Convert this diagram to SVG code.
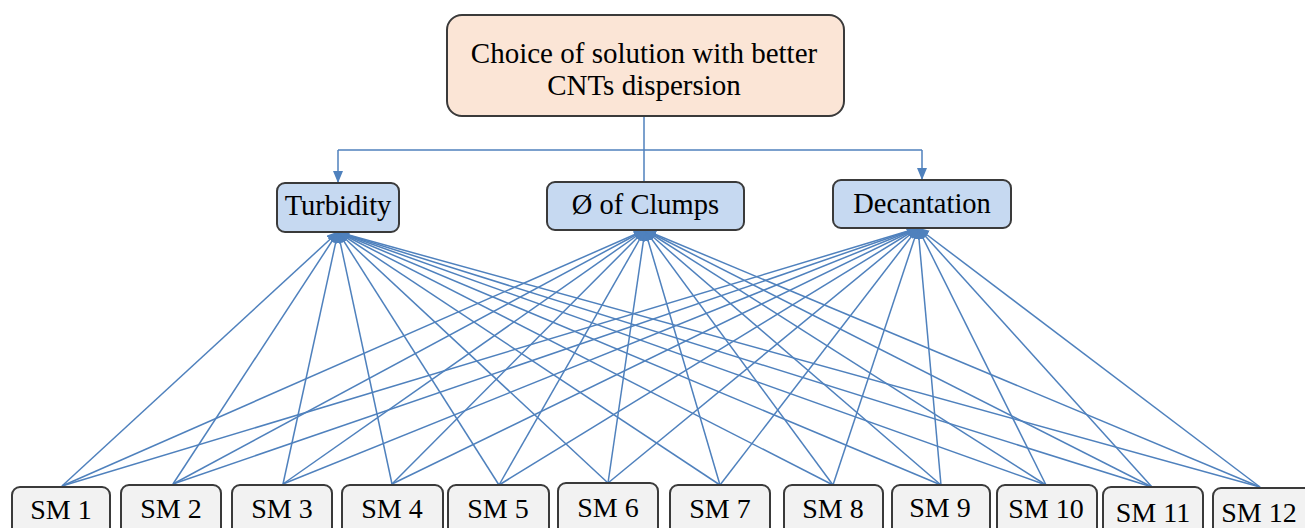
<svg xmlns="http://www.w3.org/2000/svg" width="1305" height="528" viewBox="0 0 1305 528">
<style>
.box{stroke:#3a3a3a;stroke-width:2}
.top{fill:#fbe5d6}
.mid{fill:#c6d9f1}
.sm{fill:#f2f2f2}
text{fill:#000;text-anchor:middle}
.t1{font-size:29px}
.t2{font-size:28.5px}
.t3{font-size:28px}
.c{stroke:#4f81bd;stroke-width:1.5;fill:none}
</style>
<defs>
<marker id="arr" markerUnits="userSpaceOnUse" markerWidth="12" markerHeight="10" refX="11" refY="5" orient="auto">
<path d="M0,0 L12,5 L0,10 Z" fill="#4f81bd"/>
</marker>
</defs>
<rect width="1305" height="528" fill="#fff"/>
<g id="connectors">
<path class="c" d="M644,116 V182"/>
<path class="c" d="M338,150 H922"/>
<path class="c" d="M338,150 V182" marker-end="url(#arr)"/>
<path class="c" d="M922,150 V179" marker-end="url(#arr)"/>
<g marker-end="url(#arr)">
<path class="c" d="M62,486 L338,232"/><path class="c" d="M62,486 L645,230"/><path class="c" d="M62,486 L918,228"/>
<path class="c" d="M173,484 L338,232"/><path class="c" d="M173,484 L645,230"/><path class="c" d="M173,484 L918,228"/>
<path class="c" d="M283,484 L338,232"/><path class="c" d="M283,484 L645,230"/><path class="c" d="M283,484 L918,228"/>
<path class="c" d="M392,484 L338,232"/><path class="c" d="M392,484 L645,230"/><path class="c" d="M392,484 L918,228"/>
<path class="c" d="M499,485 L338,232"/><path class="c" d="M499,485 L645,230"/><path class="c" d="M499,485 L918,228"/>
<path class="c" d="M608,483 L338,232"/><path class="c" d="M608,483 L645,230"/><path class="c" d="M608,483 L918,228"/>
<path class="c" d="M720,485 L338,232"/><path class="c" d="M720,485 L645,230"/><path class="c" d="M720,485 L918,228"/>
<path class="c" d="M833,485 L338,232"/><path class="c" d="M833,485 L645,230"/><path class="c" d="M833,485 L918,228"/>
<path class="c" d="M941,485 L338,232"/><path class="c" d="M941,485 L645,230"/><path class="c" d="M941,485 L918,228"/>
<path class="c" d="M1046,485 L338,232"/><path class="c" d="M1046,485 L645,230"/><path class="c" d="M1046,485 L918,228"/>
<path class="c" d="M1152,487 L338,232"/><path class="c" d="M1152,487 L645,230"/><path class="c" d="M1152,487 L918,228"/>
<path class="c" d="M1260,487 L338,232"/><path class="c" d="M1260,487 L645,230"/><path class="c" d="M1260,487 L918,228"/>
</g>
</g>
<g font-family="Liberation Serif, DejaVu Serif, serif">
<g id="goal"><rect class="box top" x="447" y="15" width="397" height="101" rx="15"/>
<text class="t1" x="644" y="63">Choice of solution with better</text>
<text class="t1" x="644" y="95">CNTs dispersion</text></g>
<g id="turbidity"><rect class="box mid" x="277" y="183" width="122" height="49" rx="8"/><text class="t2" x="338" y="215">Turbidity</text></g>
<g id="clumps"><rect class="box mid" x="547" y="182" width="197" height="48" rx="8"/><text class="t2" x="645.5" y="214">Ø of Clumps</text></g>
<g id="decantation"><rect class="box mid" x="833" y="180" width="178" height="48" rx="8"/><text class="t2" x="922" y="213">Decantation</text></g>
<g id="sm1"><rect class="box sm" x="12" y="487" width="98" height="60" rx="8"/><text class="t3" x="61" y="519">SM 1</text></g>
<g id="sm2"><rect class="box sm" x="121" y="485" width="100" height="60" rx="8"/><text class="t3" x="171" y="518">SM 2</text></g>
<g id="sm3"><rect class="box sm" x="232" y="485" width="100" height="60" rx="8"/><text class="t3" x="282" y="518">SM 3</text></g>
<g id="sm4"><rect class="box sm" x="342" y="485" width="101" height="60" rx="8"/><text class="t3" x="392" y="518">SM 4</text></g>
<g id="sm5"><rect class="box sm" x="448" y="485" width="101" height="60" rx="8"/><text class="t3" x="498" y="518">SM 5</text></g>
<g id="sm6"><rect class="box sm" x="558" y="483" width="100" height="60" rx="8"/><text class="t3" x="608" y="517">SM 6</text></g>
<g id="sm7"><rect class="box sm" x="670" y="485" width="100" height="60" rx="8"/><text class="t3" x="720" y="518">SM 7</text></g>
<g id="sm8"><rect class="box sm" x="784" y="485" width="99" height="60" rx="8"/><text class="t3" x="833" y="518">SM 8</text></g>
<g id="sm9"><rect class="box sm" x="892" y="485" width="98" height="60" rx="8"/><text class="t3" x="940" y="517">SM 9</text></g>
<g id="sm10"><rect class="box sm" x="997" y="485" width="100" height="60" rx="8"/><text class="t3" x="1046" y="518">SM 10</text></g>
<g id="sm11"><rect class="box sm" x="1103" y="487" width="100" height="60" rx="8"/><text class="t3" x="1153" y="522">SM 11</text></g>
<g id="sm12"><rect class="box sm" x="1213" y="488" width="100" height="60" rx="8"/><text class="t3" x="1259" y="522">SM 12</text></g>
</g>
</svg>
